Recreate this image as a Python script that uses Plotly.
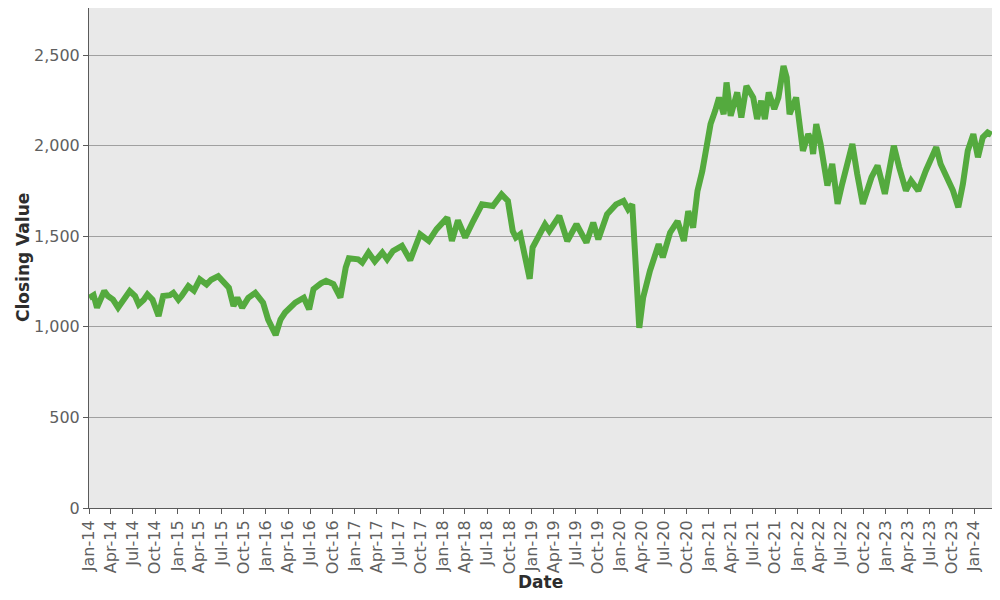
import plotly.graph_objects as go

# closing values (approximate)
dates = [
    "2014-01-02", "2014-01-20", "2014-02-03", "2014-02-20", "2014-03-05", "2014-03-20",
    "2014-04-10", "2014-05-01", "2014-05-25", "2014-06-18", "2014-07-10", "2014-07-25",
    "2014-08-15", "2014-08-30", "2014-09-20", "2014-10-05", "2014-10-15", "2014-11-03",
    "2014-12-01", "2014-12-15", "2015-01-05", "2015-01-18", "2015-02-15", "2015-03-10",
    "2015-04-03", "2015-05-01", "2015-05-20", "2015-06-18", "2015-07-10", "2015-08-01",
    "2015-08-20", "2015-09-05", "2015-09-25", "2015-10-20", "2015-11-18", "2015-12-20",
    "2016-01-10", "2016-01-25", "2016-02-10", "2016-03-01", "2016-03-20", "2016-05-01",
    "2016-06-05", "2016-06-27", "2016-07-15", "2016-08-15", "2016-09-05", "2016-10-05",
    "2016-11-03", "2016-11-25", "2016-12-08", "2017-01-15", "2017-02-01", "2017-02-27",
    "2017-03-25", "2017-04-25", "2017-05-15", "2017-06-08", "2017-07-15", "2017-08-18",
    "2017-09-28", "2017-11-03", "2017-12-05", "2018-01-18", "2018-02-06", "2018-03-03",
    "2018-04-02", "2018-05-05", "2018-06-10", "2018-07-25", "2018-08-30", "2018-09-25",
    "2018-10-15", "2018-10-28", "2018-11-15", "2018-12-24", "2019-01-05", "2019-02-25",
    "2019-03-15", "2019-04-25", "2019-05-28", "2019-07-05", "2019-08-15", "2019-09-12",
    "2019-10-03", "2019-11-08", "2019-12-15", "2020-01-15", "2020-02-03", "2020-02-20",
    "2020-03-03", "2020-03-20", "2020-04-05", "2020-05-03", "2020-06-08", "2020-06-25",
    "2020-07-25", "2020-08-25", "2020-09-20", "2020-10-08", "2020-10-28", "2020-11-15",
    "2020-12-05", "2020-12-20", "2021-01-08", "2021-01-27", "2021-02-12", "2021-03-03",
    "2021-03-15", "2021-04-01", "2021-04-28", "2021-05-15", "2021-06-05", "2021-07-03",
    "2021-07-19", "2021-08-05", "2021-08-20", "2021-09-05", "2021-09-28", "2021-10-15",
    "2021-11-05", "2021-11-18", "2021-11-30", "2021-12-27", "2022-01-06", "2022-01-24",
    "2022-02-15", "2022-02-28", "2022-03-07", "2022-03-20", "2022-04-07", "2022-05-05",
    "2022-05-25", "2022-06-16", "2022-07-05", "2022-08-03", "2022-08-16", "2022-09-05",
    "2022-09-28", "2022-11-03", "2022-11-28", "2022-12-28", "2023-01-15", "2023-02-03",
    "2023-02-25", "2023-03-25", "2023-04-15", "2023-05-15", "2023-06-15", "2023-07-05",
    "2023-07-28", "2023-08-15", "2023-09-15", "2023-10-05", "2023-10-27", "2023-11-15",
    "2023-12-05", "2023-12-28", "2024-01-16", "2024-02-05", "2024-02-25", "2024-03-12",
]
closing = [
    1160, 1175, 1106, 1170, 1198, 1170,
    1150, 1106, 1160, 1198, 1170, 1124,
    1150, 1179, 1150, 1080, 1060, 1170,
    1175, 1188, 1150, 1170, 1225, 1200,
    1262, 1234, 1260, 1280, 1250, 1216,
    1115, 1160, 1106, 1160, 1188, 1134,
    1040, 990, 955, 1040, 1079, 1134,
    1161, 1097, 1208, 1240, 1254, 1236,
    1162, 1327, 1379, 1373, 1355, 1410,
    1361, 1410, 1373, 1419, 1447, 1368,
    1511, 1474, 1539, 1603, 1474, 1588,
    1493, 1584, 1676, 1667, 1731, 1695,
    1529, 1493, 1511, 1265, 1438, 1566,
    1529, 1612, 1474, 1566, 1465, 1575,
    1483, 1621, 1676, 1695, 1649, 1676,
    1438, 995, 1162, 1309, 1456, 1383,
    1520, 1584, 1474, 1639, 1548, 1750,
    1860, 1972, 2119, 2193, 2266, 2174,
    2349, 2165, 2294, 2156, 2330, 2266,
    2147, 2248, 2147, 2294, 2202, 2266,
    2440, 2376, 2174, 2266, 2156, 1972,
    2064, 2028, 1954, 2119, 2009, 1780,
    1899, 1679, 1789, 1936, 2009, 1844,
    1679, 1826, 1890, 1734, 1881, 2000,
    1881, 1752, 1807, 1752, 1862, 1917,
    1991, 1899, 1807, 1752, 1660, 1789,
    1972, 2064, 1936, 2046, 2073, 2060,
]

fig = go.Figure()
fig.add_trace(go.Scatter(
    x=dates, y=closing, mode="lines",
    line=dict(color="rgb(84,170,62)", width=6),
    showlegend=False,
))

# page body adds ~8px offset, so the figure is a bit smaller than the window
fig.update_layout(
    width=992, height=592,
    margin=dict(l=81, r=8, t=0, b=92),
    paper_bgcolor="white",
    plot_bgcolor="rgb(233,233,233)",
    font=dict(family="DejaVu Sans", size=16, color="rgb(95,95,95)"),
)
fig.update_xaxes(
    range=["2014-01-01", "2024-03-14"],
    tickmode="linear", tick0="2014-01-01", dtick="M3", tickformat="%b-%y",
    tickangle=-90, ticks="outside", ticklen=5, tickcolor="rgb(90,90,90)",
    showgrid=False, showline=True, linecolor="rgb(90,90,90)", linewidth=1,
    mirror=True, zeroline=False, automargin=False,
)
fig.update_yaxes(
    range=[0, 2760], dtick=500, tickformat=",",
    ticks="outside", ticklen=5, tickcolor="rgb(90,90,90)",
    showgrid=True, gridcolor="rgb(160,160,160)", gridwidth=1,
    showline=True, linecolor="rgb(90,90,90)", linewidth=1, mirror=True,
    zeroline=False, automargin=False,
)

# axis titles placed as annotations
fig.add_annotation(text="<b>Closing Value</b>", xref="paper", yref="paper",
                   x=0, y=0.5, xshift=-66, xanchor="center", yanchor="middle",
                   textangle=-90, showarrow=False,
                   font=dict(size=17, color="rgb(45,45,45)"))
fig.add_annotation(text="<b>Date</b>", xref="paper", yref="paper",
                   x=0.5, y=0, yshift=-74, xanchor="center", yanchor="middle",
                   showarrow=False,
                   font=dict(size=17, color="rgb(45,45,45)"))

fig.write_html("out.html")
